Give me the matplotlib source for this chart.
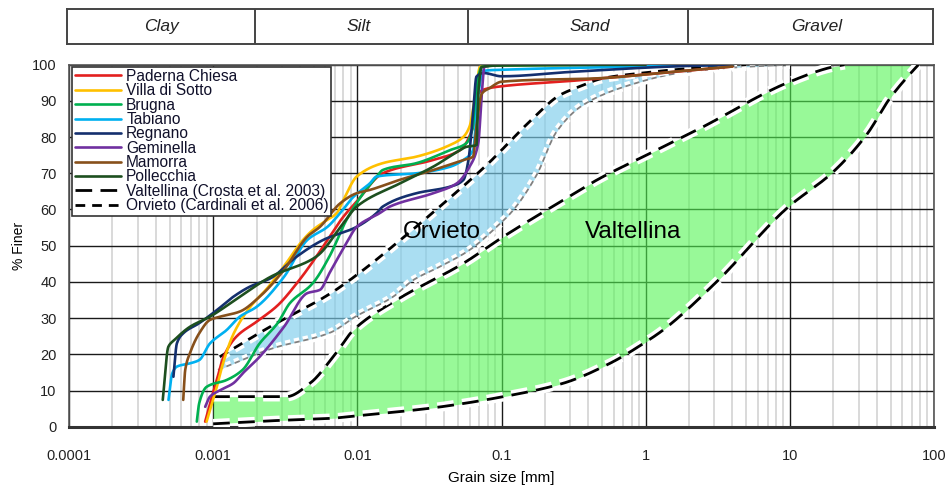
import numpy as np
import matplotlib
matplotlib.use("Agg")
import matplotlib.pyplot as plt
import matplotlib.patheffects as pe
from matplotlib.ticker import LogLocator, NullFormatter

plt.rcParams["font.family"] = ["Liberation Sans", "DejaVu Sans"]

# ---- grain size distributions: grain size [mm] and % finer ----
paderna_d = [0.00088, 0.00098, 0.00106, 0.00118, 0.00145, 0.002, 0.0028, 0.0038, 0.0052,
             0.0062, 0.008, 0.0099, 0.015, 0.0336, 0.0516, 0.0635, 0.069, 0.075, 0.098,
             0.3, 1.0, 4.0]
paderna_p = [1.4, 8.3, 12.9, 19.3, 24.9, 29.0, 33.5, 39.6, 47.0, 51.6, 58.0, 62.2, 70.0,
             73.7, 76.4, 82.9, 92.0, 93.1, 94.0, 95.5, 97.3, 99.5]

villa_d = [0.0009, 0.00095, 0.00106, 0.00117, 0.00139, 0.0018, 0.0024, 0.0032, 0.0042,
           0.0049, 0.0061, 0.0072, 0.008, 0.0099, 0.015, 0.0257, 0.0439, 0.0545, 0.06,
           0.066, 0.071, 0.1, 1.0, 4.0]
villa_p = [1.4, 4.6, 11.0, 17.5, 25.8, 33.0, 38.5, 45.1, 51.6, 54.3, 57.0, 59.0, 62.6,
           69.1, 72.8, 74.6, 77.8, 80.1, 82.9, 92.0, 99.4, 99.8, 100, 100]

brugna_d = [0.00077, 0.0008, 0.0009, 0.00124, 0.0016, 0.0021, 0.0028, 0.0034, 0.0049,
            0.0064, 0.0084, 0.011, 0.0136, 0.015, 0.0257, 0.0439, 0.057, 0.0635, 0.069,
            0.073, 0.1, 1.0, 4.0]
brugna_p = [1.4, 6.5, 11.0, 12.9, 15.7, 23.0, 28.6, 34.1, 39.6, 47.0, 57.1, 64.5, 69.0,
            70.9, 72.8, 76.4, 78.3, 82.9, 96.7, 99.4, 99.8, 100, 100]

tabiano_d = [0.00049, 0.00052, 0.00056, 0.00069, 0.0008, 0.00095, 0.00124, 0.00153, 0.002,
             0.0031, 0.0045, 0.0062, 0.0076, 0.0094, 0.0122, 0.0136, 0.0257, 0.0439,
             0.0545, 0.0635, 0.069, 0.075, 0.1, 1.0, 4.0]
tabiano_p = [7.4, 14.7, 16.6, 17.5, 18.4, 23.0, 26.7, 30.4, 33.1, 41.4, 51.6, 55.2, 59.0,
             63.5, 67.2, 69.1, 70.0, 71.8, 73.7, 76.4, 92.0, 98.3, 98.6, 99.5, 100]

regnano_d = [0.00053, 0.00056, 0.00062, 0.0008, 0.00106, 0.00138, 0.0018, 0.0025, 0.0038,
             0.0058, 0.0099, 0.0136, 0.015, 0.0257, 0.0439, 0.0545, 0.059, 0.0635, 0.067,
             0.075, 0.1, 0.3, 1.5, 4.0]
regnano_p = [13.8, 23.0, 25.8, 28.6, 32.2, 35.9, 38.7, 41.0, 47.0, 51.6, 55.2, 59.0, 60.8,
             64.5, 66.3, 68.2, 73.7, 86.6, 96.7, 97.7, 96.8, 98.0, 99.5, 100]

geminella_d = [0.00088, 0.00095, 0.00112, 0.00138, 0.0016, 0.0021, 0.0031, 0.0045, 0.0055,
               0.0064, 0.0084, 0.0099, 0.0143, 0.0168, 0.0336, 0.0489, 0.06, 0.069, 0.073,
               0.076, 0.1, 1.0]
geminella_p = [5.5, 8.3, 10.1, 12.0, 14.7, 19.3, 27.6, 36.9, 37.8, 42.4, 50.7, 55.2, 59.0,
               60.8, 64.5, 67.2, 71.8, 78.3, 92.0, 99.4, 100, 100]

mamorra_d = [0.00062, 0.00064, 0.00069, 0.0008, 0.00095, 0.00112, 0.00153, 0.0021, 0.0031,
             0.0045, 0.0055, 0.0076, 0.0099, 0.0122, 0.0197, 0.0336, 0.0545, 0.0635, 0.067,
             0.073, 0.0825, 0.1, 0.5, 1.5, 4.0]
mamorra_p = [7.4, 15.7, 20.3, 25.8, 29.5, 30.4, 31.8, 35.9, 43.3, 52.5, 55.2, 61.7, 64.5,
             65.4, 68.2, 70.9, 73.7, 74.6, 82.9, 92.0, 93.5, 95.3, 96.3, 98.0, 99.5]

pollecchia_d = [0.000447, 0.000489, 0.00054, 0.00069, 0.00095, 0.00153, 0.0025, 0.0052,
                0.008, 0.0099, 0.0197, 0.0335, 0.0516, 0.057, 0.0671, 0.069, 0.073, 0.1, 1.0]
pollecchia_p = [7.4, 22.1, 24.0, 27.6, 30.4, 35.9, 41.4, 47.0, 56.2, 60.8, 67.2, 71.8, 76.4,
                77.3, 77.8, 92.1, 99.4, 99.8, 100]

# ---- reference envelopes ----
valt_up_d = [0.001, 0.00322, 0.0047, 0.0068, 0.0094, 0.0187, 0.0542, 0.103, 0.268, 0.481,
             1.01, 2.38, 10.0, 19.9, 24.0]
valt_up_p = [8.3, 8.3, 12.0, 19.3, 26.7, 35.0, 45.1, 52.5, 62.6, 68.6, 75.0, 82.4, 95.3,
             99.4, 100]
valt_lo_d = [0.001, 0.0024, 0.0065, 0.0099, 0.0319, 0.103, 0.268, 0.565, 1.01, 1.32, 3.1,
             9.5, 20.0, 34.0, 49.4, 75.5, 78.0]
valt_lo_p = [0.8, 1.6, 2.3, 3.0, 5.1, 8.3, 12.0, 17.5, 23.5, 26.7, 40.0, 60.3, 70.4, 80.6,
             90.7, 99.4, 100]

orv_up_d = [0.00111, 0.00248, 0.0065, 0.011, 0.0187, 0.0373, 0.0789, 0.157, 0.254, 0.35,
            0.5, 1.0, 1.8, 5.0]
orv_up_p = [19.3, 27.6, 36.8, 43.3, 50.7, 60.8, 72.3, 84.3, 91.6, 94.0, 96.2, 97.8, 98.8, 100]
orv_lo_d = [0.00108, 0.00261, 0.0065, 0.0097, 0.0177, 0.0244, 0.0373, 0.06, 0.0924, 0.121,
            0.175, 0.241, 0.369, 0.777, 1.64, 4.0, 10.0]
orv_lo_p = [15.7, 21.7, 26.0, 30.4, 35.9, 40.5, 44.2, 48.8, 55.2, 59.9, 69.5, 81.5, 88.9,
            94.4, 97.6, 99.2, 100]

# ---- axis ticks and class bands ----
x_ticks = [0.0001, 0.001, 0.01, 0.1, 1, 10, 100]
x_tick_labels = ["0.0001", "0.001", "0.01", "0.1", "1", "10", "100"]
y_ticks = list(range(0, 101, 10))
class_bounds = [0.002, 0.06, 2.0]
class_names = ["Clay", "Silt", "Sand", "Gravel"]
class_label_x = [4.5e-4, 0.0104, 0.42, 15.6]

samples = [
    ("Paderna Chiesa", paderna_d, paderna_p, "#e3201f"),
    ("Villa di Sotto", villa_d, villa_p, "#ffc000"),
    ("Brugna", brugna_d, brugna_p, "#00b050"),
    ("Tabiano", tabiano_d, tabiano_p, "#00b0f0"),
    ("Regnano", regnano_d, regnano_p, "#142f6e"),
    ("Geminella", geminella_d, geminella_p, "#7030a0"),
    ("Mamorra", mamorra_d, mamorra_p, "#87501b"),
    ("Pollecchia", pollecchia_d, pollecchia_p, "#1d4f1f"),
]


def smooth_curve(d, p, n=24):
    """Shape-preserving cubic (PCHIP) through the points, in log10(d) space."""
    x = np.log10(np.asarray(d, float))
    y = np.asarray(p, float)
    h = np.diff(x)
    delta = np.diff(y) / h
    m = np.zeros_like(y)
    m[0], m[-1] = delta[0], delta[-1]
    for k in range(1, len(y) - 1):
        if delta[k - 1] * delta[k] > 0:
            w1 = 2 * h[k] + h[k - 1]
            w2 = h[k] + 2 * h[k - 1]
            m[k] = (w1 + w2) / (w1 / delta[k - 1] + w2 / delta[k])
    xs, ys = [], []
    for k in range(len(h)):
        t = np.linspace(0, 1, n, endpoint=(k == len(h) - 1))
        h00 = 2 * t**3 - 3 * t**2 + 1
        h10 = t**3 - 2 * t**2 + t
        h01 = -2 * t**3 + 3 * t**2
        h11 = t**3 - t**2
        xs.append(x[k] + t * h[k])
        ys.append(h00 * y[k] + h10 * h[k] * m[k] + h01 * y[k + 1] + h11 * h[k] * m[k + 1])
    return 10 ** np.concatenate(xs), np.concatenate(ys)


W, H = 947, 486
fig = plt.figure(figsize=(W / 100, H / 100), dpi=100)
ax = fig.add_axes([69 / W, 59.3 / H, 865 / W, 362 / H])
ax.set_xscale("log")
ax.set_xlim(1e-4, 100)
ax.set_ylim(0, 100)

ax.set_xticks(x_ticks)
ax.set_xticklabels(x_tick_labels)
ax.xaxis.set_minor_locator(LogLocator(base=10, subs=np.arange(2, 10), numticks=100))
ax.xaxis.set_minor_formatter(NullFormatter())
ax.set_yticks(y_ticks)
ax.tick_params(axis="both", which="both", length=0, labelsize=10.5, colors="#222222")
ax.tick_params(axis="x", pad=16)
ax.tick_params(axis="y", pad=9)
ax.set_axisbelow(True)
ax.grid(which="minor", axis="x", color="#d9d9d9", lw=1.4)
ax.grid(which="major", axis="both", color="#1a1a1a", lw=1.0)
for s in ax.spines.values():
    s.set_color("#555555")
    s.set_linewidth(1.2)
ax.spines["bottom"].set_linewidth(2.2)
ax.spines["bottom"].set_color("#333333")
ax.set_xlabel("Grain size [mm]", fontsize=11, labelpad=6)
ax.set_ylabel("% Finer", fontsize=10, labelpad=4)

halo = [pe.Stroke(linewidth=7, foreground="white"), pe.Normal()]

vu_d, vu_p = smooth_curve(valt_up_d, valt_up_p)
vl_d, vl_p = smooth_curve(valt_lo_d, valt_lo_p)
ou_d, ou_p = smooth_curve(orv_up_d, orv_up_p)
ol_d, ol_p = smooth_curve(orv_lo_d, orv_lo_p)

# Valtellina envelope
g = np.logspace(np.log10(valt_lo_d[0]), np.log10(valt_lo_d[-1]), 500)
vu = np.interp(np.log10(g), np.log10(vu_d), vu_p)
vl = np.interp(np.log10(g), np.log10(vl_d), vl_p)
ax.fill_between(g, vl, vu, color=(83 / 255, 246 / 255, 83 / 255), alpha=0.6, lw=0, zorder=1)

# Orvieto envelope
g2 = np.logspace(np.log10(orv_up_d[0]), np.log10(orv_lo_d[-1]), 500)
ou = np.interp(np.log10(g2), np.log10(ou_d), ou_p)
ol = np.interp(np.log10(g2), np.log10(ol_d), ol_p)
ax.fill_between(g2, ol, ou, color=(125 / 255, 205 / 255, 235 / 255), alpha=0.65, lw=0, zorder=1)

ax.plot(vu_d, vu_p, color="black", lw=2.0, dashes=(6, 3), zorder=3,
        path_effects=halo, label="Valtellina (Crosta et al. 2003)")
ax.plot(vl_d, vl_p, color="black", lw=2.0, dashes=(6, 3), zorder=3, path_effects=halo)
ax.plot(ol_d, ol_p, color="#808080", lw=1.3, dashes=(3, 2), zorder=3,
        path_effects=[pe.Stroke(linewidth=6, foreground="white"), pe.Normal()])
ax.plot(ou_d, ou_p, color="black", lw=2.0, dashes=(3.5, 2.5), zorder=3,
        path_effects=halo, label="Orvieto (Cardinali et al. 2006)")

for name, d, p, c in samples:
    sd, sp = smooth_curve(d, p)
    ax.plot(sd, sp, color=c, lw=1.9, zorder=5, label=name,
            solid_joinstyle="round", solid_capstyle="round")

ax.text(0.0208, 53.8, "Orvieto", fontsize=17.5, va="center", ha="left", zorder=6)
ax.text(0.38, 53.8, "Valtellina", fontsize=17.5, va="center", ha="left", zorder=6)

handles, labels = ax.get_legend_handles_labels()
leg_labels = [s[0] for s in samples] + ["Valtellina (Crosta et al. 2003)",
                                        "Orvieto (Cardinali et al. 2006)"]
leg_handles = [handles[labels.index(l)] for l in leg_labels]
leg = ax.legend(leg_handles, leg_labels, loc="upper left", bbox_to_anchor=(0.004, 0.995),
                fontsize=11.2, labelspacing=-0.04, handlelength=3.0, handletextpad=0.3,
                borderpad=0.15, borderaxespad=0, fancybox=False, framealpha=1,
                edgecolor="#333333")
leg.get_frame().set_linewidth(1.2)
leg.set_zorder(10)
for t in leg.get_texts():
    t.set_color("#10102a")

# soil class header
axh = fig.add_axes([67 / W, (H - 44) / H, 866 / W, 35 / H])
axh.set_xscale("log")
axh.set_xlim(1e-4, 100)
axh.set_ylim(0, 1)
axh.set_xticks([])
axh.set_yticks([])
axh.xaxis.set_minor_locator(plt.NullLocator())
for s in axh.spines.values():
    s.set_color("#444444")
    s.set_linewidth(1.4)
for b in class_bounds:
    axh.axvline(b, color="#444444", lw=1.4)
for name, xl in zip(class_names, class_label_x):
    axh.text(xl, 0.5, name, style="italic", fontsize=12.5, ha="center", va="center",
             color="#222222")

fig.savefig("out.png", dpi=100)
